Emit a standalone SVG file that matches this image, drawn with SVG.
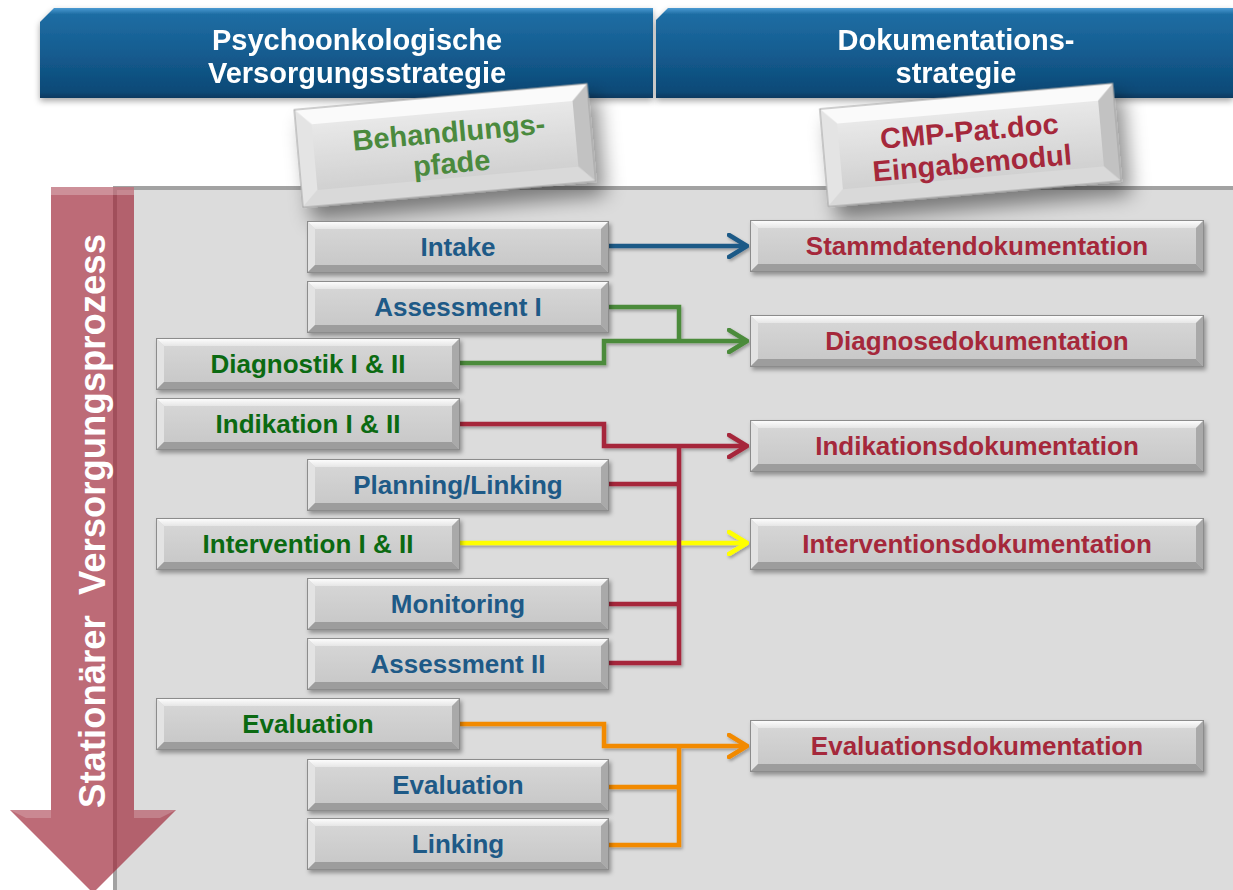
<svg xmlns="http://www.w3.org/2000/svg" xmlns:xlink="http://www.w3.org/1999/xlink" width="1233" height="890" viewBox="0 0 1233 890">
  <defs>
    <style>
      .sans { font-family: "Liberation Sans", Arial, sans-serif; font-weight: bold; }
      .hd { font-size: 29px; fill: #ffffff; text-anchor: middle; }
      .lbl { font-size: 26px; text-anchor: middle; }
      .tA { fill: #1e5a87; }
      .tB { fill: #0b6a12; }
      .tR { fill: #a5283b; }
      .tagG { font-size: 29px; fill: #4b8a3e; text-anchor: middle; }
      .tagR { font-size: 29px; fill: #a5283b; text-anchor: middle; }
      .btn { filter: url(#shBtn); }
      .c { fill: none; stroke-width: 4.5; stroke-linejoin: miter; stroke-linecap: butt; }
      .blue { stroke: #1e5a87; }
      .green { stroke: #4b8b3b; }
      .red { stroke: #a6283b; }
      .yellow { stroke: #ffff00; }
      .orange { stroke: #f28a00; }
    </style>

    <!-- header banner fill -->
    <linearGradient id="gHead" x1="0" y1="0" x2="0" y2="1">
      <stop offset="0" stop-color="#4a9ad2"/>
      <stop offset="0.07" stop-color="#1f6da3"/>
      <stop offset="0.5" stop-color="#145c90"/>
      <stop offset="0.93" stop-color="#0d4a77"/>
      <stop offset="1" stop-color="#0a3a60"/>
    </linearGradient>

    <!-- button bevel fills -->
    <linearGradient id="gFace" x1="0" y1="0" x2="0" y2="1">
      <stop offset="0" stop-color="#d8d8d8"/>
      <stop offset="1" stop-color="#c6c6c6"/>
    </linearGradient>
    <linearGradient id="gTop" x1="0" y1="0" x2="0" y2="1">
      <stop offset="0" stop-color="#ffffff"/>
      <stop offset="1" stop-color="#e6e6e6"/>
    </linearGradient>
    <linearGradient id="gTagFace" x1="0" y1="0" x2="0" y2="1">
      <stop offset="0" stop-color="#eeeeee"/>
      <stop offset="1" stop-color="#cbcbcb"/>
    </linearGradient>

    <filter id="shBtn" x="-10%" y="-20%" width="125%" height="160%">
      <feDropShadow dx="2" dy="3" stdDeviation="2" flood-color="#000" flood-opacity="0.35"/>
    </filter>
    <filter id="shTag" x="-20%" y="-30%" width="150%" height="190%">
      <feDropShadow dx="8" dy="14" stdDeviation="10" flood-color="#000" flood-opacity="0.45"/>
    </filter>
    <filter id="shHead" x="-5%" y="-20%" width="110%" height="160%">
      <feDropShadow dx="0" dy="3" stdDeviation="3" flood-color="#000" flood-opacity="0.35"/>
    </filter>
    <filter id="shLine" x="-10%" y="-10%" width="120%" height="130%">
      <feDropShadow dx="1.5" dy="2" stdDeviation="1.5" flood-color="#000" flood-opacity="0.3"/>
    </filter>

    <!-- bevelled buttons: left column (302), middle column (304), right column (454) -->
    <g id="btnA">
      <rect x="0" y="0" width="302" height="52" fill="url(#gFace)"/>
      <polygon points="0,0 302,0 294,8 8,8" fill="url(#gTop)"/>
      <polygon points="0,0 8,8 8,44 0,52" fill="#e3e3e3"/>
      <polygon points="302,0 302,52 294,44 294,8" fill="#a9a9a9"/>
      <polygon points="0,52 302,52 294,44 8,44" fill="#9d9d9d"/>
      <rect x="0.5" y="0.5" width="301" height="51" fill="none" stroke="#8c8c8c" stroke-width="1"/>
    </g>
    <g id="btnB">
      <rect x="0" y="0" width="304" height="52" fill="url(#gFace)"/>
      <polygon points="0,0 304,0 296,8 8,8" fill="url(#gTop)"/>
      <polygon points="0,0 8,8 8,44 0,52" fill="#e3e3e3"/>
      <polygon points="304,0 304,52 296,44 296,8" fill="#a9a9a9"/>
      <polygon points="0,52 304,52 296,44 8,44" fill="#9d9d9d"/>
      <rect x="0.5" y="0.5" width="303" height="51" fill="none" stroke="#8c8c8c" stroke-width="1"/>
    </g>
    <g id="btnR">
      <rect x="0" y="0" width="454" height="52" fill="url(#gFace)"/>
      <polygon points="0,0 454,0 446,8 8,8" fill="url(#gTop)"/>
      <polygon points="0,0 8,8 8,44 0,52" fill="#e3e3e3"/>
      <polygon points="454,0 454,52 446,44 446,8" fill="#a9a9a9"/>
      <polygon points="0,52 454,52 446,44 8,44" fill="#9d9d9d"/>
      <rect x="0.5" y="0.5" width="453" height="51" fill="none" stroke="#8c8c8c" stroke-width="1"/>
    </g>

    <!-- tilted title plate, centred on the origin -->
    <g id="tag">
      <rect x="-147" y="-49" width="294" height="98" fill="url(#gTagFace)"/>
      <polygon points="-147,-49 147,-49 131,-33 -131,-33" fill="#fafafa"/>
      <polygon points="-147,-49 -131,-33 -131,33 -147,49" fill="#e4e4e4"/>
      <polygon points="147,-49 147,49 131,33 131,-33" fill="#c2c2c2"/>
      <polygon points="-147,49 147,49 131,33 -131,33" fill="#d9d9d9"/>
      <rect x="-147" y="-49" width="294" height="98" fill="none" stroke="#a0a0a0" stroke-width="1"/>
    </g>

    <!-- open chevron arrowheads -->
    <marker id="mBlue" viewBox="0 0 22 26" refX="20" refY="13" markerWidth="22" markerHeight="26" markerUnits="userSpaceOnUse" orient="auto">
      <path d="M2,2 L20,13 L2,24" fill="none" stroke="#1e5a87" stroke-width="4.5" stroke-linecap="round" stroke-linejoin="round"/>
    </marker>
    <marker id="mGreen" viewBox="0 0 22 26" refX="20" refY="13" markerWidth="22" markerHeight="26" markerUnits="userSpaceOnUse" orient="auto">
      <path d="M2,2 L20,13 L2,24" fill="none" stroke="#4b8b3b" stroke-width="4.5" stroke-linecap="round" stroke-linejoin="round"/>
    </marker>
    <marker id="mRed" viewBox="0 0 22 26" refX="20" refY="13" markerWidth="22" markerHeight="26" markerUnits="userSpaceOnUse" orient="auto">
      <path d="M2,2 L20,13 L2,24" fill="none" stroke="#a6283b" stroke-width="4.5" stroke-linecap="round" stroke-linejoin="round"/>
    </marker>
    <marker id="mYellow" viewBox="0 0 22 26" refX="20" refY="13" markerWidth="22" markerHeight="26" markerUnits="userSpaceOnUse" orient="auto">
      <path d="M2,2 L20,13 L2,24" fill="none" stroke="#ffff00" stroke-width="4.5" stroke-linecap="round" stroke-linejoin="round"/>
    </marker>
    <marker id="mOrange" viewBox="0 0 22 26" refX="20" refY="13" markerWidth="22" markerHeight="26" markerUnits="userSpaceOnUse" orient="auto">
      <path d="M2,2 L20,13 L2,24" fill="none" stroke="#f28a00" stroke-width="4.5" stroke-linecap="round" stroke-linejoin="round"/>
    </marker>
  </defs>

  <rect x="0" y="0" width="1233" height="890" fill="#ffffff"/>

  <!-- grey work panel -->
  <g id="panel">
    <rect x="113" y="186" width="1120" height="704" fill="#dcdcdc"/>
    <rect x="113" y="186" width="1120" height="4" fill="#a2a2a2"/>
    <rect x="113" y="186" width="4" height="704" fill="#a2a2a2"/>
  </g>

  <!-- column headers -->
  <g id="header-left" filter="url(#shHead)">
    <polygon points="40,22 54,8 653,8 653,98 40,98" fill="url(#gHead)"/>
    <text class="sans hd" x="357" y="50">Psychoonkologische</text>
    <text class="sans hd" x="357" y="83">Versorgungsstrategie</text>
  </g>
  <g id="header-right" filter="url(#shHead)">
    <polygon points="656,20 668,8 1233,8 1233,98 656,98" fill="url(#gHead)"/>
    <text class="sans hd" x="956" y="50">Dokumentations-</text>
    <text class="sans hd" x="956" y="83">strategie</text>
  </g>

  <!-- tilted plates -->
  <g id="tag-pfade" transform="translate(445,145.5) rotate(-5.1)">
    <use xlink:href="#tag" filter="url(#shTag)"/>
    <text class="sans tagG" x="5" y="-3">Behandlungs-</text>
    <text class="sans tagG" x="5" y="28">pfade</text>
  </g>
  <g id="tag-cmp" transform="translate(970.5,145) rotate(-5.0)">
    <use xlink:href="#tag" filter="url(#shTag)"/>
    <text class="sans tagR" x="0" y="-4">CMP-Pat.doc</text>
    <text class="sans tagR" x="0" y="28">Eingabemodul</text>
  </g>

  <!-- process arrow -->
  <g id="process-arrow">
    <polygon points="51,187 134,187 134,810 176,810 93,893 10,810 51,810" fill="#a12c3d" fill-opacity="0.7"/>
    <rect x="51" y="187" width="83" height="8" fill="#ffffff" fill-opacity="0.25"/>
    <polygon points="10,810 51,810 51,818 26,818" fill="#ffffff" fill-opacity="0.2"/>
    <polygon points="134,810 176,810 160,818 134,818" fill="#ffffff" fill-opacity="0.2"/>
    <text class="sans" transform="translate(105,521) rotate(-90)" font-size="36.5" fill="#ffffff" text-anchor="middle" word-spacing="10">Stationärer Versorgungsprozess</text>
  </g>

  <!-- connectors -->
  <g id="connectors" filter="url(#shLine)">
    <path class="c blue" d="M609,246 H747" marker-end="url(#mBlue)"/>
    <path class="c green" d="M609,307 H679 V341"/>
    <path class="c green" d="M460,363 H604 V341 H747" marker-end="url(#mGreen)"/>
    <path class="c yellow" d="M460,543 H747" marker-end="url(#mYellow)"/>
    <path class="c red" d="M460,424 H604 V446 H747" marker-end="url(#mRed)"/>
    <path class="c red" d="M609,484 H679"/>
    <path class="c red" d="M609,604 H679"/>
    <path class="c red" d="M609,663 H679 V446"/>
    <path class="c orange" d="M460,724 H604 V746 H747" marker-end="url(#mOrange)"/>
    <path class="c orange" d="M609,787 H679"/>
    <path class="c orange" d="M609,845 H679 V746"/>
  </g>

  <!-- care pathway steps -->
  <g id="n-intake"><use class="btn" xlink:href="#btnA" x="307" y="221"/><text class="sans lbl tA" x="458" y="256">Intake</text></g>
  <g id="n-assessment1"><use class="btn" xlink:href="#btnA" x="307" y="281"/><text class="sans lbl tA" x="458" y="316">Assessment I</text></g>
  <g id="n-diagnostik"><use class="btn" xlink:href="#btnB" x="156" y="338"/><text class="sans lbl tB" x="308" y="373">Diagnostik I &amp; II</text></g>
  <g id="n-indikation"><use class="btn" xlink:href="#btnB" x="156" y="398"/><text class="sans lbl tB" x="308" y="433">Indikation I &amp; II</text></g>
  <g id="n-planning"><use class="btn" xlink:href="#btnA" x="307" y="459"/><text class="sans lbl tA" x="458" y="494">Planning/Linking</text></g>
  <g id="n-intervention"><use class="btn" xlink:href="#btnB" x="156" y="518"/><text class="sans lbl tB" x="308" y="553">Intervention I &amp; II</text></g>
  <g id="n-monitoring"><use class="btn" xlink:href="#btnA" x="307" y="578"/><text class="sans lbl tA" x="458" y="613">Monitoring</text></g>
  <g id="n-assessment2"><use class="btn" xlink:href="#btnA" x="307" y="638"/><text class="sans lbl tA" x="458" y="673">Assessment II</text></g>
  <g id="n-evaluation-b"><use class="btn" xlink:href="#btnB" x="156" y="698"/><text class="sans lbl tB" x="308" y="733">Evaluation</text></g>
  <g id="n-evaluation-a"><use class="btn" xlink:href="#btnA" x="307" y="759"/><text class="sans lbl tA" x="458" y="794">Evaluation</text></g>
  <g id="n-linking"><use class="btn" xlink:href="#btnA" x="307" y="818"/><text class="sans lbl tA" x="458" y="853">Linking</text></g>

  <!-- documentation modules -->
  <g id="d-stammdaten"><use class="btn" xlink:href="#btnR" x="750" y="220"/><text class="sans lbl tR" x="977" y="255">Stammdatendokumentation</text></g>
  <g id="d-diagnose"><use class="btn" xlink:href="#btnR" x="750" y="315"/><text class="sans lbl tR" x="977" y="350">Diagnosedokumentation</text></g>
  <g id="d-indikation"><use class="btn" xlink:href="#btnR" x="750" y="420"/><text class="sans lbl tR" x="977" y="455">Indikationsdokumentation</text></g>
  <g id="d-intervention"><use class="btn" xlink:href="#btnR" x="750" y="518"/><text class="sans lbl tR" x="977" y="553">Interventionsdokumentation</text></g>
  <g id="d-evaluation"><use class="btn" xlink:href="#btnR" x="750" y="720"/><text class="sans lbl tR" x="977" y="755">Evaluationsdokumentation</text></g>
</svg>
